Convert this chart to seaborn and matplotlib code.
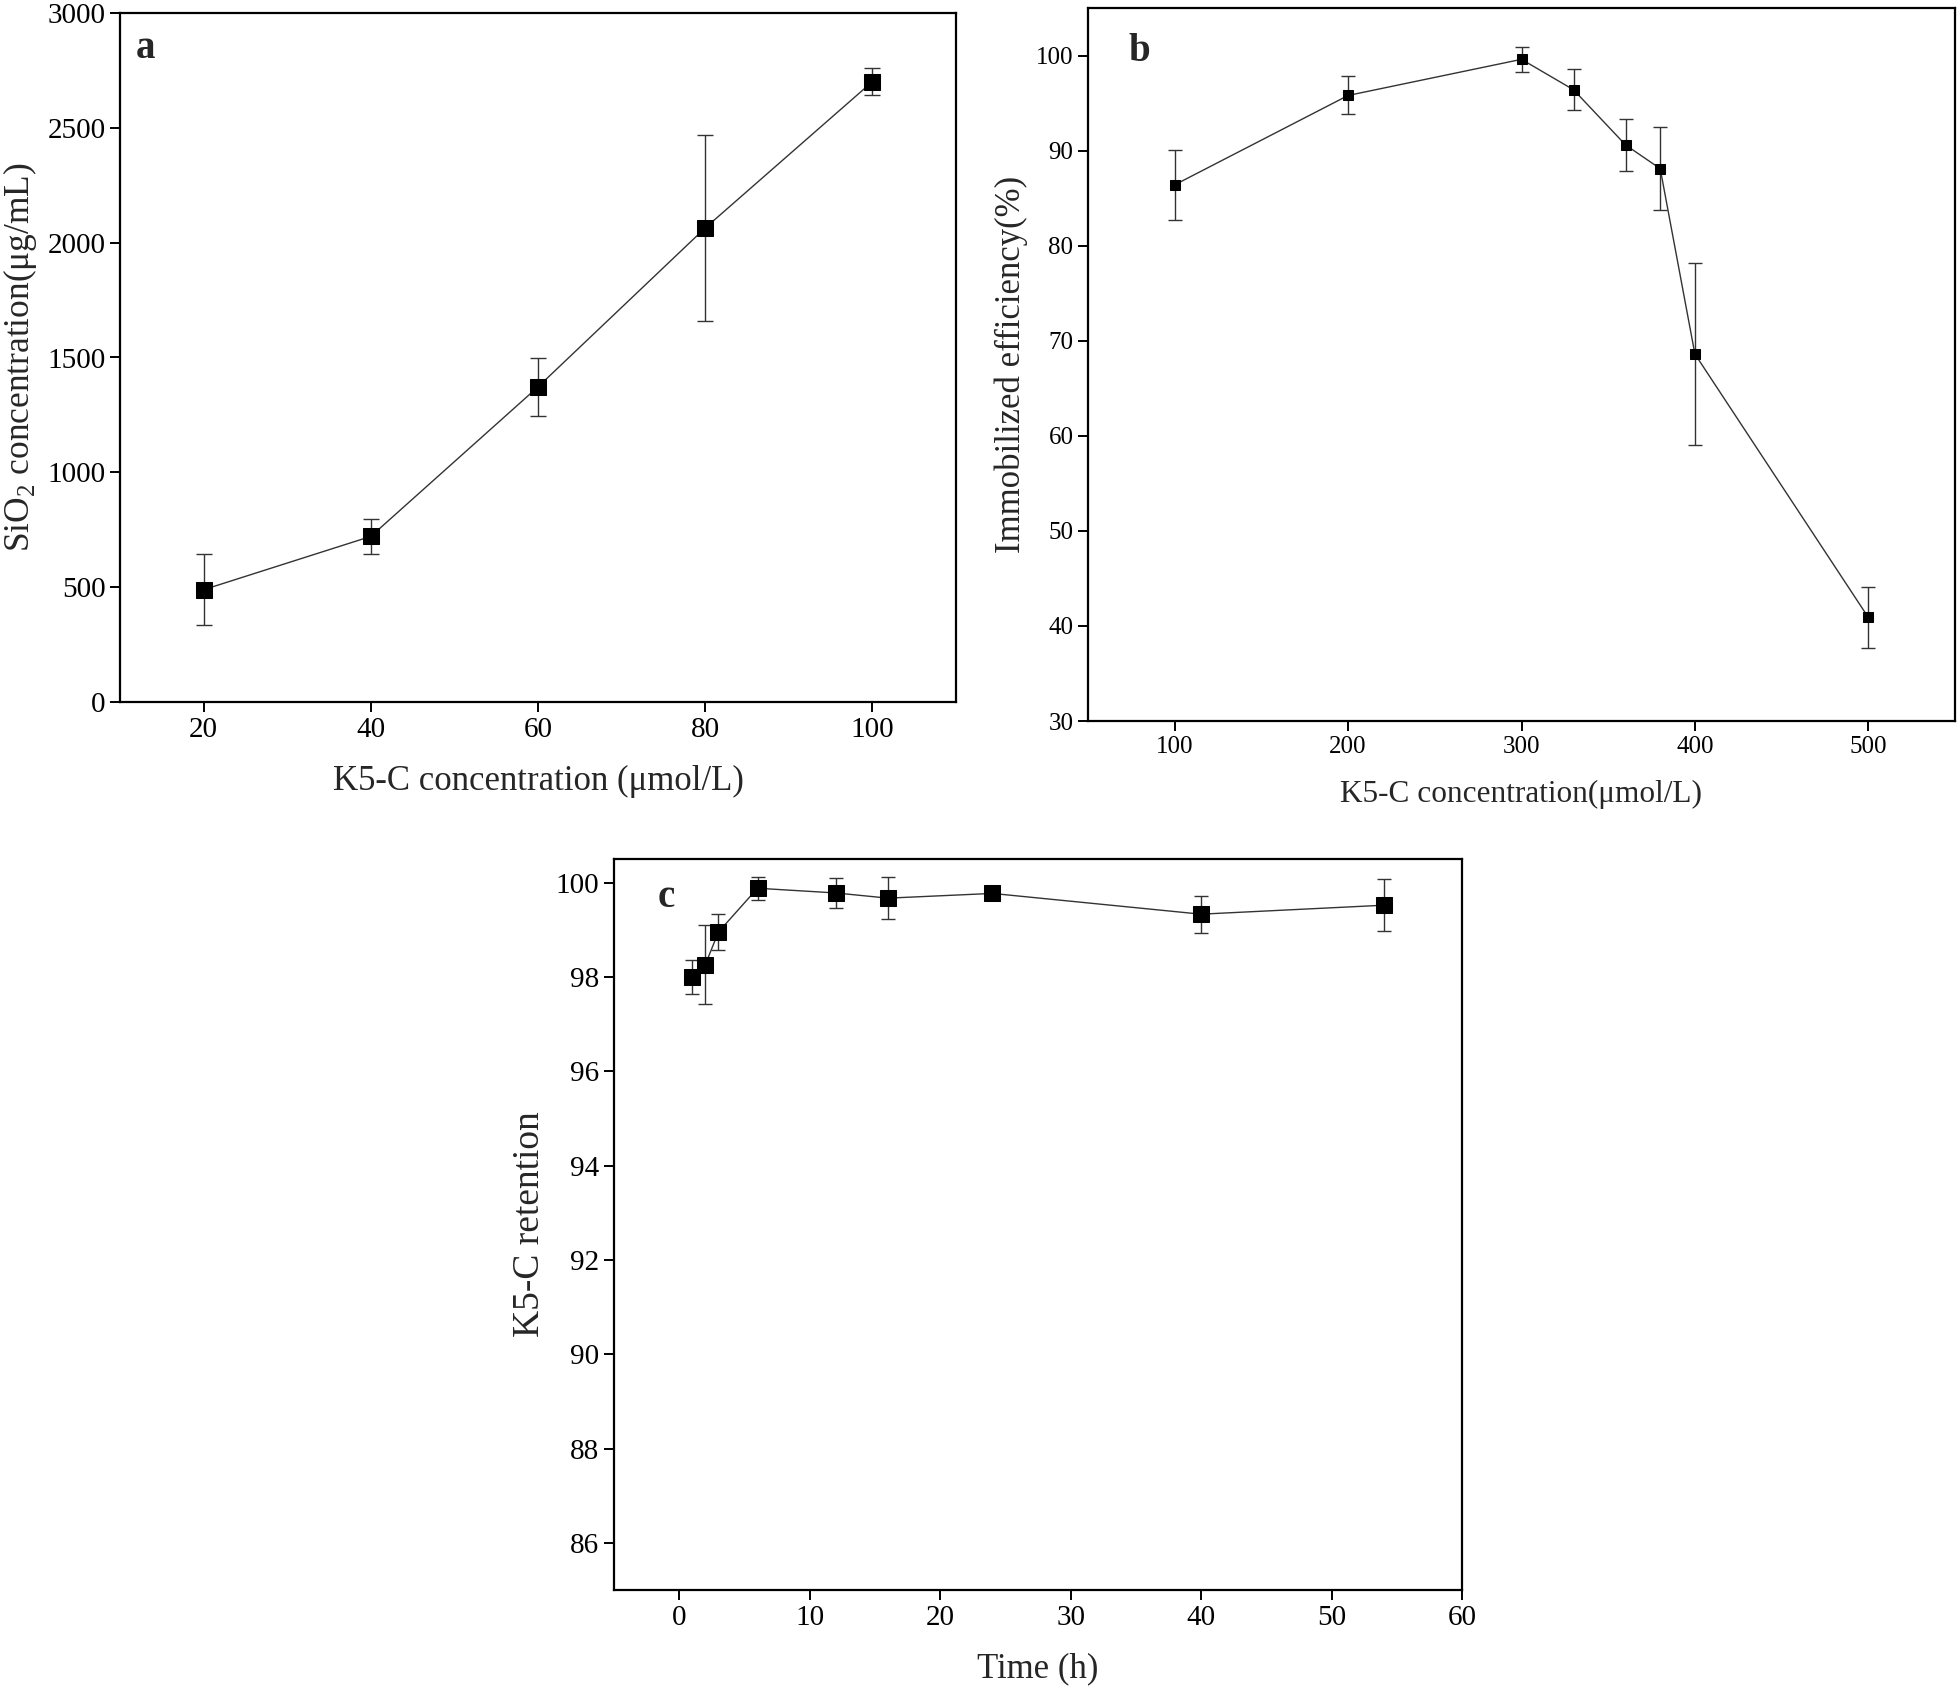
import matplotlib
matplotlib.use("Agg")
import matplotlib.pyplot as plt
import seaborn as sns
import pandas as pd

# panel a: SiO2 vs K5-C concentration
a_conc = [20, 40, 60, 80, 100]
a_sio2 = [489, 721, 1372, 2064, 2701]
a_err = [155, 75, 125, 404, 60]

# panel b: immobilized efficiency
b_conc = [100, 200, 300, 330, 360, 380, 400, 500]
b_eff = [86.4, 95.8, 99.6, 96.4, 90.6, 88.1, 68.6, 40.9]
b_err = [3.7, 2.0, 1.3, 2.15, 2.75, 4.4, 9.6, 3.2]

# panel c: retention over time
c_time = [1, 2, 3, 6, 12, 16, 24, 40, 54]
c_ret = [97.99, 98.26, 98.95, 99.88, 99.78, 99.67, 99.77, 99.33, 99.52]
c_err = [0.36, 0.84, 0.39, 0.24, 0.31, 0.44, 0.14, 0.39, 0.55]

sns.set_theme(style="ticks")
plt.rcParams["font.family"] = ["Liberation Serif", "DejaVu Serif"]
plt.rcParams["mathtext.fontset"] = "custom"
plt.rcParams["mathtext.rm"] = "Liberation Serif"
plt.rcParams["axes.linewidth"] = 1.6
plt.rcParams["axes.edgecolor"] = "black"

W, H = 1960, 1694
fig = plt.figure(figsize=(W / 100, H / 100), dpi=100)


def box(l, t, r, b):
    return [l / W, 1 - b / H, (r - l) / W, (b - t) / H]


ax_a = fig.add_axes(box(120, 13, 956, 702))
ax_b = fig.add_axes(box(1088, 8, 1955, 721))
ax_c = fig.add_axes(box(614, 859, 1462, 1590))


def draw(ax, x, y, err, ms, cap, tick_fs, xlab_fs, ylab_fs, xlabel, ylabel,
         letter, lx, ly):
    df = pd.DataFrame({"x": x, "y": y})
    ax.errorbar(x, y, yerr=err, fmt="none", ecolor="#333333", elinewidth=1.0,
                capsize=cap, capthick=1.0, zorder=2)
    sns.lineplot(data=df, x="x", y="y", ax=ax, color="#333333", linewidth=1.0,
                 marker="s", markersize=ms, markerfacecolor="black",
                 markeredgecolor="black", zorder=3)
    for s in ax.spines.values():
        s.set_visible(True)
        s.set_linewidth(1.6)
        s.set_color("black")
    ax.tick_params(axis="both", direction="out", length=7, width=1.4,
                   labelsize=tick_fs, colors="black", top=False, right=False)
    ax.set_xlabel(xlabel, fontsize=xlab_fs, labelpad=16)
    ax.set_ylabel(ylabel, fontsize=ylab_fs, labelpad=6)
    ax.text(lx, ly, letter, transform=ax.transAxes, fontsize=28,
            fontweight="bold", va="top", ha="left")


draw(ax_a, a_conc, a_sio2, a_err, 12, 6, 21, 25, 25.5,
     "K5-C concentration (μmol/L)", r"SiO$_2$ concentration(μg/mL)", "a",
     0.019, 0.975)
ax_a.set_xlim(10, 110)
ax_a.set_ylim(0, 3000)
ax_a.set_xticks([20, 40, 60, 80, 100])
ax_a.set_yticks([0, 500, 1000, 1500, 2000, 2500, 3000])

draw(ax_b, b_conc, b_eff, b_err, 7, 5, 18, 22.5, 25,
     "K5-C concentration(μmol/L)", "Immobilized efficiency(%)", "b",
     0.047, 0.965)
ax_b.set_xlim(50, 550)
ax_b.set_ylim(30, 105)
ax_b.set_xticks([100, 200, 300, 400, 500])
ax_b.set_yticks([30, 40, 50, 60, 70, 80, 90, 100])

draw(ax_c, c_time, c_ret, c_err, 11, 5, 21, 25, 27,
     "Time (h)", "K5-C retention", "c", 0.052, 0.972)
ax_c.set_xlim(-5, 60)
ax_c.set_ylim(85, 100.5)
ax_c.set_xticks([0, 10, 20, 30, 40, 50, 60])
ax_c.set_yticks([86, 88, 90, 92, 94, 96, 98, 100])

fig.savefig("out.png", dpi=100, facecolor="white")
